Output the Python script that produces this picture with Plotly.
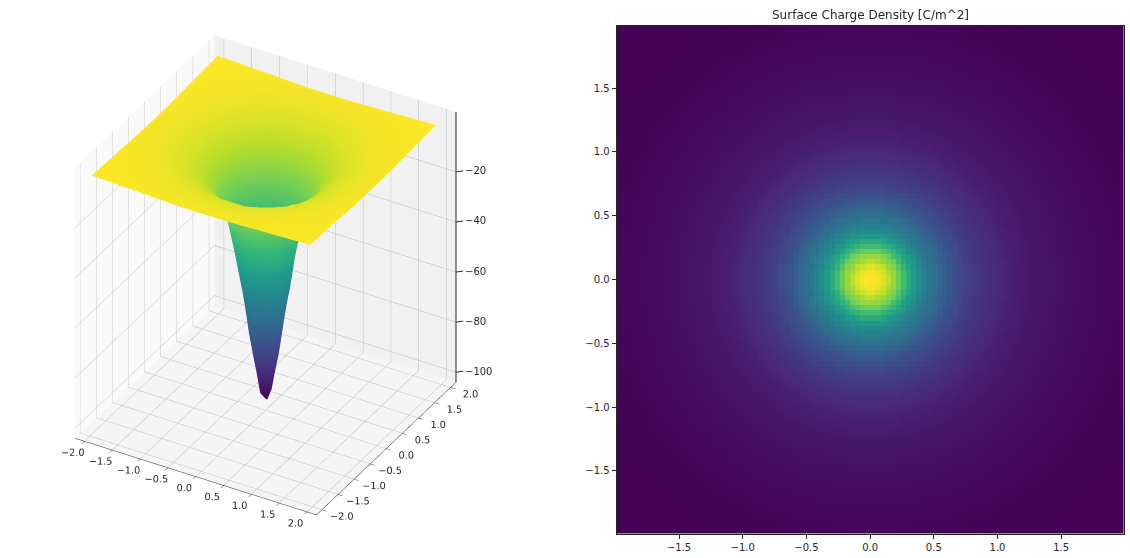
import numpy as np
import plotly.graph_objects as go

W, H = 1130, 558

# potential z read at radii 0, 0.02, ... 1.00 (left panel, steep part)
potential_inner = [
    -100, -99.8, -99.2, -98.2, -96.8, -95, -92.8, -90.3, -87.5, -84.5, -81.5, -78.5,
    -75.5, -72.5, -69.5, -66.5, -63.5, -60.5, -57.5, -54.5, -51.5, -48.5, -45.5, -42.7,
    -40, -37.5, -35, -32.7, -30.5, -28.5, -26.8, -25.2, -23.7, -22.3, -21, -19.9, -18.8,
    -17.8, -16.9, -16, -15.2, -14.4, -13.7, -13, -12.4, -11.8, -11.2, -10.7, -10.2, -9.7,
    -9.3,
]
# potential z read at radii 1.00, 1.04, ... 2.84 (left panel, flat part)
potential_outer = [
    -9.3, -8.6, -8, -7.4, -6.9, -6.4, -5.8, -5.3, -4.9, -4.5, -4.1, -3.8, -3.5, -3.2, -3,
    -2.8, -2.6, -2.4, -2.2, -2.05, -1.9, -1.75, -1.6, -1.5, -1.4, -1.3, -1.2, -1.1, -1,
    -0.9, -0.8, -0.75, -0.7, -0.65, -0.6, -0.55, -0.5, -0.45, -0.4, -0.35, -0.3, -0.25,
    -0.2, -0.15, -0.1, -0.05, 0,
]

# relative charge density read at radii 0, 0.02, 0.04, ... (right panel)
density_by_radius = [
    1, 1, 0.995, 0.985, 0.97, 0.95, 0.925, 0.9, 0.87, 0.84, 0.805, 0.77, 0.73, 0.69,
    0.65, 0.615, 0.58, 0.545, 0.515, 0.49, 0.465, 0.445, 0.425, 0.405, 0.385, 0.37, 0.352,
    0.335, 0.318, 0.302, 0.288, 0.275, 0.262, 0.25, 0.238, 0.226, 0.215, 0.205, 0.196,
    0.187, 0.178, 0.17, 0.162, 0.155, 0.148, 0.141, 0.135, 0.129, 0.123, 0.118, 0.113,
    0.108, 0.103, 0.099, 0.095, 0.091, 0.087, 0.083, 0.08, 0.077, 0.074, 0.071, 0.068,
    0.065, 0.063, 0.06, 0.058, 0.056, 0.054, 0.052, 0.05, 0.048, 0.046, 0.045, 0.043,
    0.042, 0.04, 0.039, 0.038, 0.036, 0.035, 0.034, 0.033, 0.032, 0.031, 0.03, 0.029,
    0.028, 0.027, 0.026, 0.025, 0.024, 0.023, 0.022, 0.021, 0.02, 0.019, 0.018, 0.017,
    0.016, 0.015, 0.014, 0.013, 0.012, 0.011, 0.01, 0.009, 0.008, 0.007, 0.006, 0.005,
    0.004, 0.003, 0.002, 0.001, 0, 0, 0, 0, 0, 0, 0, 0, 0, 0, 0, 0, 0, 0, 0, 0, 0, 0, 0,
    0, 0, 0, 0, 0, 0,
]

surface_axis = [round(-1.98 + 0.08 * i, 2) for i in range(50)]
heatmap_axis = [round(-1.98 + 0.04 * i, 2) for i in range(100)]

xy_ticks_3d = [-2.0, -1.5, -1.0, -0.5, 0.0, 0.5, 1.0, 1.5, 2.0]
z_ticks_3d = [-100, -80, -60, -40, -20]
ticks_2d = [-1.5, -1.0, -0.5, 0.0, 0.5, 1.0, 1.5]
title_right = "Surface Charge Density [C/m^2]"

XY_LIMIT = 2.17
Z_LIMITS = [-104, 4]


def radii(axis):
    a = np.array(axis)
    return np.hypot(*np.meshgrid(a, a))


def nearest(table, position):
    idx = np.minimum(np.rint(position).astype(int), len(table) - 1)
    return np.array(table)[idx]


def potential_grid(axis):
    r = radii(axis)
    return np.where(r <= 1.0, nearest(potential_inner, r / 0.02),
                    nearest(potential_outer, (r - 1.0).clip(0) / 0.04))


def density_grid(axis):
    return nearest(density_by_radius, radii(axis) / 0.02)


INK = "#262626"
font = dict(family="DejaVu Sans", size=10, color=INK)
scene_font = dict(family="DejaVu Sans", size=10.8, color=INK)


def scene_axis(bg, vals, rng):
    return dict(
        range=rng, tickvals=vals, ticktext=[f"{v:.1f}".replace("-", "\u2212") for v in vals],
        tickangle=0, showbackground=True, backgroundcolor=bg, gridcolor="#b8b8b8", gridwidth=1,
        showline=True, linecolor=INK, linewidth=1, ticks="outside", ticklen=5,
        tickcolor=INK, zeroline=False, title=dict(text=""), tickfont=scene_font,
        showspikes=False,
    )


fig = go.Figure()
fig.add_trace(go.Surface(
    x=surface_axis, y=surface_axis, z=potential_grid(surface_axis),
    colorscale="Viridis", cmin=-100, cmax=0, showscale=False,
    lighting=dict(ambient=1, diffuse=0, specular=0, roughness=1, fresnel=0),
    scene="scene",
))
fig.add_trace(go.Scatter3d(
    x=[XY_LIMIT, XY_LIMIT], y=[XY_LIMIT, XY_LIMIT], z=Z_LIMITS, mode="lines",
    line=dict(color=INK, width=2), scene="scene", hoverinfo="skip",
))
fig.add_trace(go.Heatmap(
    x=heatmap_axis, y=heatmap_axis, z=density_grid(heatmap_axis),
    colorscale="Viridis", zmin=0, zmax=1, showscale=False, xaxis="x", yaxis="y",
))

z_axis = scene_axis("#f5f5f5", z_ticks_3d, Z_LIMITS)
z_axis.update(showticklabels=False, ticks="", showline=False)

z_notes = [
    dict(x=XY_LIMIT, y=XY_LIMIT, z=v, text=f"{v}".replace("-", "\u2212"), showarrow=True,
         arrowhead=0, arrowwidth=1, arrowcolor=INK, ax=7, ay=-1, xanchor="left",
         yanchor="middle", font=font)
    for v in z_ticks_3d
]

CAM = 2.5
fig.update_layout(
    width=W, height=H, autosize=False, paper_bgcolor="white", plot_bgcolor="white",
    margin=dict(l=0, r=0, t=0, b=0), showlegend=False, font=font,
    scene=dict(
        domain=dict(x=[0.0, 0.47], y=[0.0, 1.0]),
        xaxis=scene_axis("#fafafa", xy_ticks_3d, [-XY_LIMIT, XY_LIMIT]),
        yaxis=scene_axis("#f1f1f1", xy_ticks_3d, [-XY_LIMIT, XY_LIMIT]),
        zaxis=z_axis,
        aspectmode="manual", aspectratio=dict(x=1, y=1, z=1.16),
        annotations=z_notes,
        camera=dict(
            eye=dict(x=0.42 * CAM, y=-0.727 * CAM, z=0.545 * CAM),
            center=dict(x=0, y=0, z=-0.017),
            up=dict(x=0, y=0, z=1),
            projection=dict(type="orthographic"),
        ),
    ),
    xaxis=dict(
        domain=[616.6 / W, 1123.6 / W], range=[-1.99, 1.99], tickvals=ticks_2d,
        ticks="outside", ticklen=4, tickcolor=INK, showgrid=False, zeroline=False,
        showline=True, linecolor=INK, linewidth=1, mirror=True, tickformat=".1f",
        tickfont=font,
    ),
    yaxis=dict(
        domain=[1 - 533.5 / H, 1 - 25.5 / H], range=[-1.99, 1.99], tickvals=ticks_2d,
        ticks="outside", ticklen=4, tickcolor=INK, showgrid=False, zeroline=False,
        showline=True, linecolor=INK, linewidth=1, mirror=True, tickformat=".1f",
        tickfont=font,
    ),
    annotations=[dict(
        text=title_right, x=0.5, xref="x domain", y=1, yref="y domain", yanchor="bottom",
        xanchor="center", yshift=1, showarrow=False,
        font=dict(family="DejaVu Sans", size=12, color=INK),
    )],
)

fig.write_html("out.html", config=dict(displayModeBar=False),
               post_script="document.body.style.margin='0';")
